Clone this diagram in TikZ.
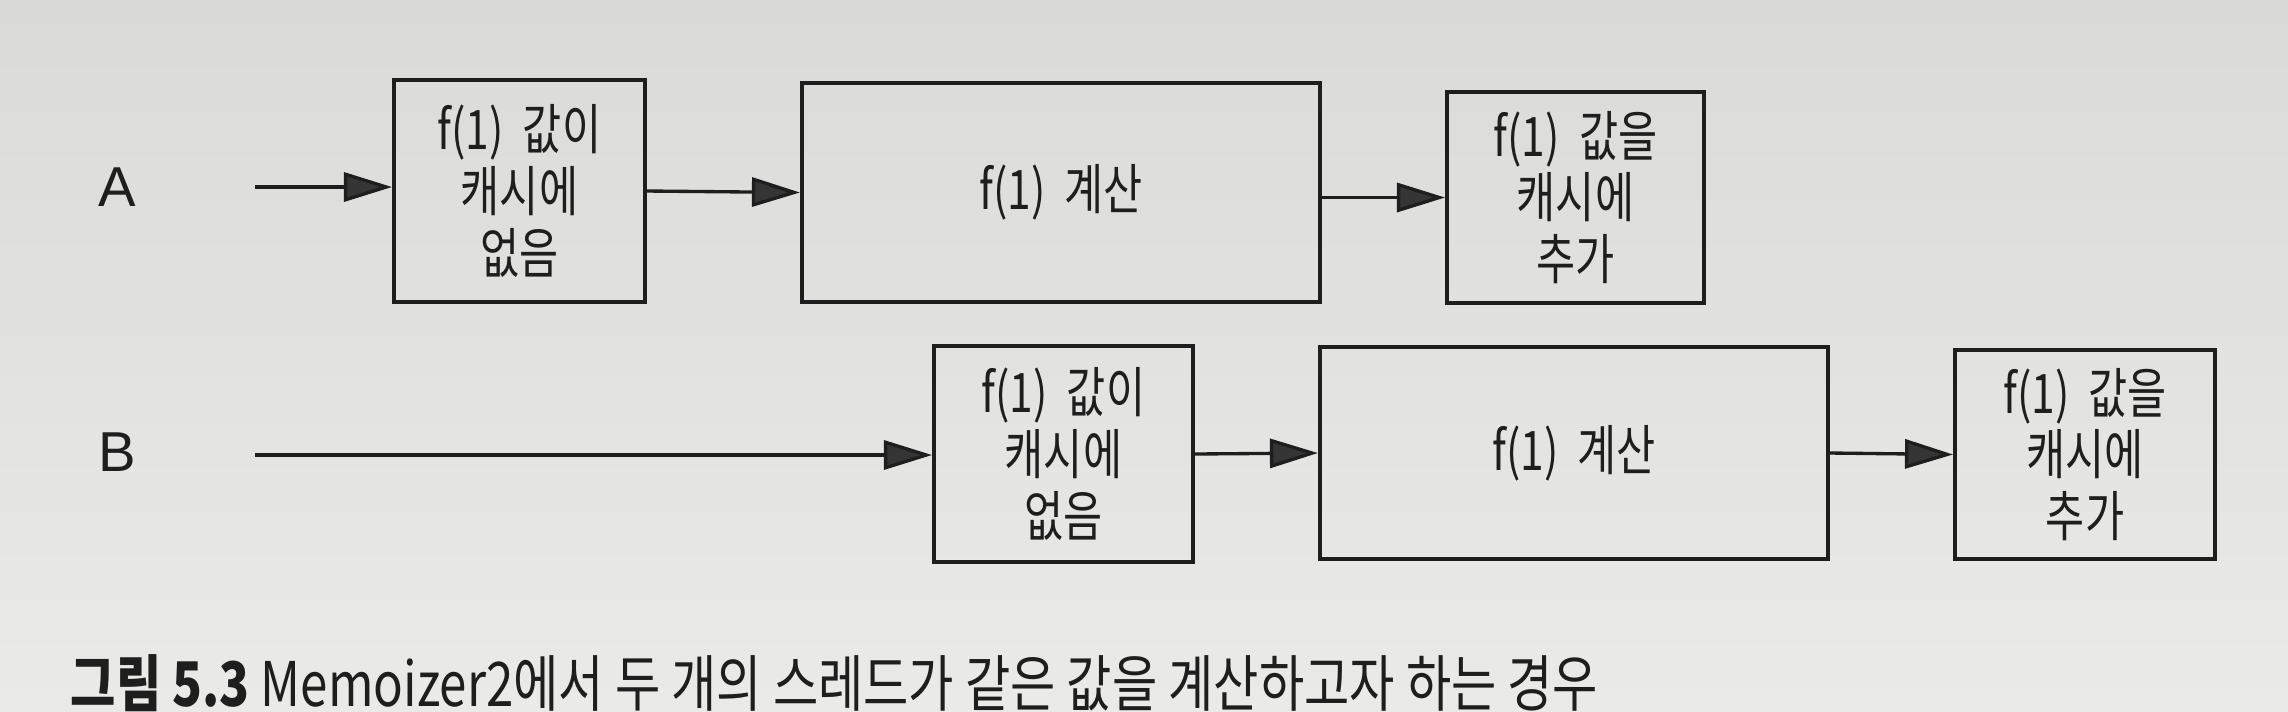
\documentclass[tikz,border=0pt]{standalone}
\usepackage{fontspec}
\newfontfamily\kr[FakeStretch=0.78]{Noto Sans CJK KR}
\newfontfamily\krcap[FakeStretch=0.8]{Noto Sans CJK KR}
\newfontfamily\lat{Liberation Sans}
\usetikzlibrary{arrows.meta}
\definecolor{papertop}{HTML}{DADAD8}
\definecolor{paperbot}{HTML}{EAEAE8}
\definecolor{ink}{HTML}{1E1E1E}
\tikzset{
  box/.style={draw=ink, line width=1.1pt, align=center, inner sep=0pt,
    font=\kr\fontsize{15.5}{17.6}\selectfont, text=ink},
  arr/.style={draw=ink, line width=0.95pt,
    -{Triangle[length=4.8mm, width=2.9mm, fill=ink!90]}},
  lbl/.style={font=\lat\fontsize{16}{18}\selectfont, text=ink, inner sep=0pt},
}
\begin{document}
\begin{tikzpicture}[x=0.01cm, y=-0.01cm]
\shade[top color=papertop, bottom color=paperbot] (0,0) rectangle (2288,711);
\useasboundingbox (0,0) rectangle (2288,711);
% row A
\node[lbl] (la) at (117,187) {A};
\coordinate (sa) at (255,187);
\node[box, minimum width=2.51cm, minimum height=2.22cm] (a1) at (519.5,191) {f(1)\ \ 값이\\캐시에\\없음};
\node[box, minimum width=5.18cm, minimum height=2.19cm] (a2) at (1061,192.5) {f(1)\ \ 계산};
\node[box, minimum width=2.57cm, minimum height=2.11cm] (a3) at (1575.5,197.5) {f(1)\ \ 값을\\캐시에\\추가};
\draw[arr] (sa) -- (sa -| a1.west);
\draw[arr] (a1.east) -- (a2.west);
\draw[arr] (a2.east |- a3.west) -- (a3.west);
% row B
\node[lbl] (lb) at (117,452) {B};
\coordinate (sb) at (255,455);
\node[box, minimum width=2.59cm, minimum height=2.16cm] (b1) at (1063.5,454) {f(1)\ \ 값이\\캐시에\\없음};
\node[box, minimum width=5.08cm, minimum height=2.12cm] (b2) at (1574,453) {f(1)\ \ 계산};
\node[box, minimum width=2.60cm, minimum height=2.09cm] (b3) at (2085,454.5) {f(1)\ \ 값을\\캐시에\\추가};
\draw[arr] (sb) -- (sb -| b1.west);
\draw[arr] (b1.east) -- (b2.west);
\draw[arr] (b2.east) -- (b3.west);
% caption
\node[anchor=west, inner sep=0pt, text=ink, font=\krcap\fontsize{17.5}{20}\selectfont] (cap) at (70,683)
  {\textbf{그림 5.3} Memoizer2에서 두 개의 스레드가 같은 값을 계산하고자 하는 경우};
\end{tikzpicture}
\end{document}
